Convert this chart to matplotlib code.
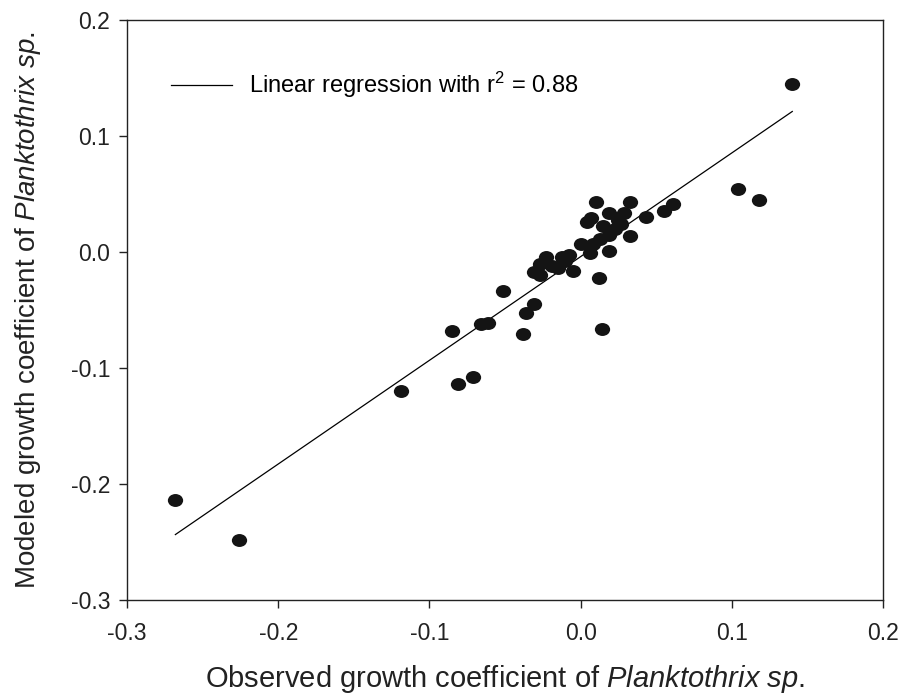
import numpy as np
import matplotlib.pyplot as plt
from matplotlib.path import Path
from matplotlib.transforms import Affine2D

plt.rcParams['font.family'] = ['Liberation Sans', 'DejaVu Sans']
plt.rcParams['mathtext.fontset'] = 'custom'
plt.rcParams['mathtext.rm'] = 'Liberation Sans'
plt.rcParams['mathtext.it'] = 'Liberation Sans:italic'

# observed vs modeled growth coefficients
observed = [0.140, -0.268, -0.226, -0.119, -0.081, -0.071, -0.085, -0.066, -0.061,
            -0.051, -0.038, -0.036, -0.031, 0.014, 0.012, 0.104, 0.118, 0.061,
            0.055, 0.043, 0.033, 0.033, 0.010, 0.019, -0.031, -0.027, -0.023,
            -0.015, -0.012, -0.005, -0.008, 0.000, 0.006, 0.004, 0.007, 0.015,
            0.019, 0.025, 0.027, 0.019, 0.013, 0.008, 0.029, 0.023, -0.027,
            -0.019, -0.010]
modeled = [0.145, -0.214, -0.248, -0.120, -0.114, -0.108, -0.068, -0.062, -0.061,
           -0.034, -0.071, -0.053, -0.045, -0.066, -0.022, 0.054, 0.045, 0.041,
           0.035, 0.030, 0.014, 0.043, 0.043, 0.001, -0.017, -0.020, -0.004,
           -0.014, -0.004, -0.016, -0.003, 0.007, -0.001, 0.026, 0.029, 0.022,
           0.034, 0.028, 0.024, 0.015, 0.011, 0.007, 0.034, 0.020, -0.010,
           -0.012, -0.008]

# regression line as drawn
fit_slope = 0.894
fit_intercept = -0.004
fit_range = [-0.268, 0.140]

xticks = [-0.3, -0.2, -0.1, 0.0, 0.1, 0.2]
yticks = [-0.3, -0.2, -0.1, 0.0, 0.1, 0.2]

fig = plt.figure(figsize=(9.09, 6.95), dpi=100)
ax = fig.add_axes([0.1397, 0.1367, 0.8317, 0.8345])

# slightly wide dots like the original
circ = Path.unit_circle()
dot = circ.transformed(Affine2D().scale(1.18, 1.0))

xf = np.array(fit_range)
ax.plot(xf, fit_slope * xf + fit_intercept, color='black', lw=0.9,
        label='Linear regression with r$^2$ = 0.88')
ax.plot(observed, modeled, linestyle='none', marker=dot, markersize=11,
        color='#141414', markeredgewidth=0)

ax.set_xlim(-0.3, 0.2)
ax.set_ylim(-0.3, 0.2)
ax.set_xticks(xticks)
ax.set_yticks(yticks)
ax.set_xticklabels(['%.1f' % t for t in xticks])
ax.set_yticklabels(['%.1f' % t for t in yticks])
ax.tick_params(direction='out', length=6, width=1, labelsize=16.5, colors='#222222')
ax.tick_params(axis='x', pad=10)
ax.tick_params(axis='y', pad=6)
for s in ax.spines.values():
    s.set_linewidth(1)
    s.set_color('#222222')

ax.set_xlabel('Observed growth coefficient of $\\it{Planktothrix\\ sp.}$', fontsize=21,
              labelpad=13, color='#222222')
ax.set_ylabel('Modeled growth coefficient of $\\it{Planktothrix\\ sp.}$', fontsize=20,
              labelpad=20, color='#222222')

ax.legend(loc='upper left', frameon=False, fontsize=17, handlelength=2.6,
          handletextpad=0.7, bbox_to_anchor=(0.03, 0.95))

fig.savefig('out.png', dpi=100)
